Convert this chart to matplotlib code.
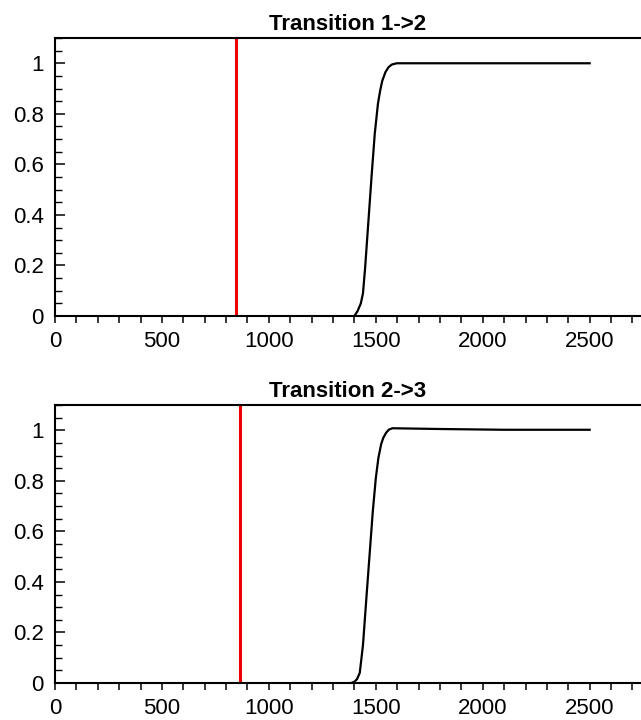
"""
Transition curves
"""

import matplotlib.pyplot as plt

# Transition 1->2
x_12 = [1400, 1415, 1430, 1440, 1450, 1460, 1470, 1480, 1495, 1510, 1520,
        1530, 1545, 1560, 1575, 1598, 1800, 2100, 2500]
y_12 = [0.0, 0.02, 0.05, 0.09, 0.19, 0.31, 0.43, 0.55, 0.72, 0.84, 0.89,
        0.93, 0.965, 0.985, 0.995, 1.0, 1.0, 1.0, 1.0]
red_12 = 848

# Transition 2->3
x_23 = [1385, 1400, 1412, 1425, 1440, 1458, 1472, 1486, 1500, 1512, 1525,
        1535, 1548, 1562, 1578, 1800, 2100, 2500]
y_23 = [0.0, 0.005, 0.015, 0.04, 0.15, 0.36, 0.52, 0.68, 0.81, 0.89, 0.945,
        0.97, 0.99, 1.003, 1.008, 1.005, 1.002, 1.002]
red_23 = 864

titles = ["Transition 1->2", "Transition 2->3"]
x_ticks = [0, 500, 1000, 1500, 2000, 2500]
y_ticks = [0, 0.2, 0.4, 0.6, 0.8, 1]
y_labels = ["0", "0.2", "0.4", "0.6", "0.8", "1"]

plt.rcParams["font.family"] = ["Liberation Sans", "DejaVu Sans"]


def draw_panel(ax, x, y, red_x, title):
    ax.plot(x, y, color="black", lw=1.6)
    ax.axvline(red_x, color="#ee0000", lw=2.2)
    ax.set_xlim(0, 2740)
    ax.set_ylim(0, 1.1)
    ax.set_xticks(x_ticks)
    ax.set_xticks(range(0, 2800, 100), minor=True)
    ax.set_yticks(y_ticks)
    ax.set_yticklabels(y_labels)
    ax.set_yticks([i * 0.05 for i in range(23)], minor=True)
    # x ticks point out, y ticks point in
    ax.tick_params(axis="x", which="both", direction="out", length=5, width=1.1)
    ax.tick_params(axis="x", which="major", labelsize=16, pad=6)
    ax.tick_params(axis="y", which="major", direction="in", length=7, width=1.1,
                   labelsize=16, pad=8)
    ax.tick_params(axis="y", which="minor", direction="in", length=5, width=1)
    ax.spines["right"].set_visible(False)
    for s in ["left", "bottom", "top"]:
        ax.spines[s].set_linewidth(1.5)
    ax.set_title(title, fontsize=16, fontweight="bold", pad=6)


fig = plt.figure(figsize=(6.41, 7.2), dpi=100)
ax1 = fig.add_axes([55 / 641, 1 - 316 / 720, 1 - 55 / 641, 278 / 720])
ax2 = fig.add_axes([55 / 641, 1 - 683 / 720, 1 - 55 / 641, 278 / 720])

draw_panel(ax1, x_12, y_12, red_12, titles[0])
draw_panel(ax2, x_23, y_23, red_23, titles[1])

plt.savefig("out.png", dpi=100)
